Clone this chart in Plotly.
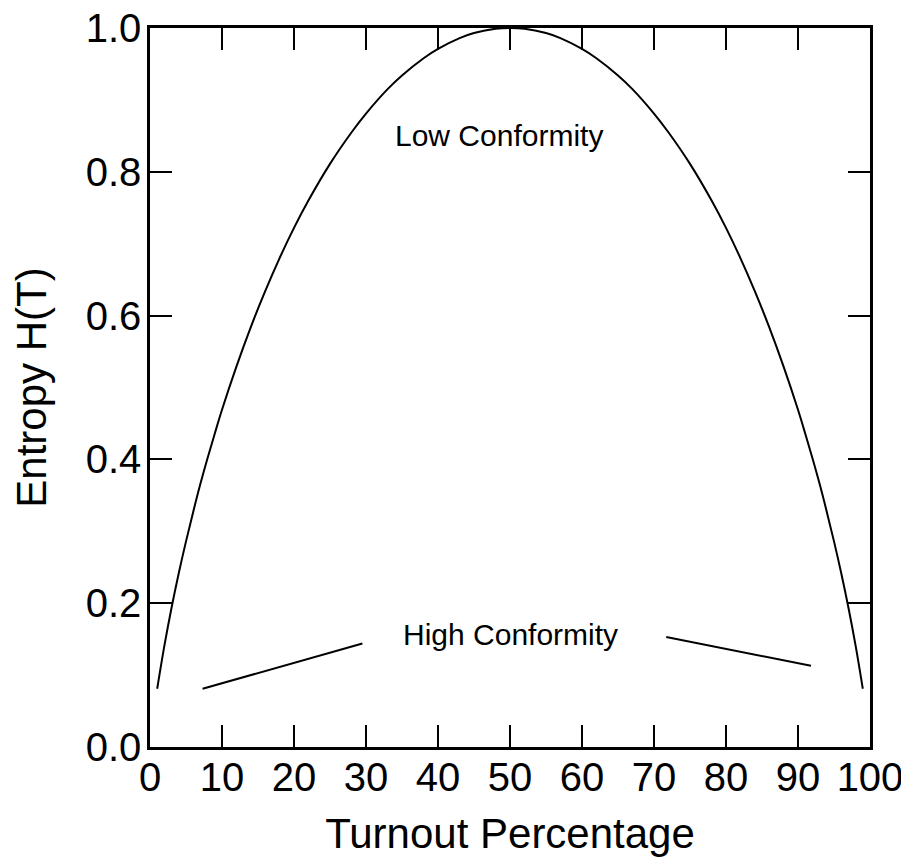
import plotly.graph_objects as go

# Entropy curve
turnout = [1, 2, 3, 4, 5, 6, 7, 8, 9, 10, 12, 14, 16, 18, 20, 22, 25, 28, 30, 33, 35, 38, 40, 43, 45, 48, 50,
           52, 55, 57, 60, 62, 65, 67, 70, 72, 75, 78, 80, 82, 84, 86, 88, 90, 91, 92, 93, 94, 95, 96, 97, 98, 99]
entropy = [0.081, 0.141, 0.194, 0.242, 0.286, 0.327, 0.366, 0.402, 0.436, 0.469, 0.529, 0.584, 0.634, 0.680,
           0.722, 0.760, 0.811, 0.855, 0.881, 0.915, 0.934, 0.958, 0.971, 0.986, 0.993, 0.999, 1.000,
           0.999, 0.993, 0.986, 0.971, 0.958, 0.934, 0.915, 0.881, 0.855, 0.811, 0.760, 0.722, 0.680,
           0.634, 0.584, 0.529, 0.469, 0.436, 0.402, 0.366, 0.327, 0.286, 0.242, 0.194, 0.141, 0.081]

# "High Conformity" pointer segments
left_seg_x = [7.3, 29.5]
left_seg_y = [0.081, 0.144]
right_seg_x = [71.7, 91.8]
right_seg_y = [0.153, 0.113]

labels = ["Low Conformity", "High Conformity"]
label_x = [48.5, 50.1]
label_y = [0.850, 0.156]

x_ticks = [0, 10, 20, 30, 40, 50, 60, 70, 80, 90, 100]
y_ticks = [0.0, 0.2, 0.4, 0.6, 0.8, 1.0]
y_tick_text = ["0.0", "0.2", "0.4", "0.6", "0.8", "1.0"]

FONT = "Liberation Sans, Arial, sans-serif"

fig = go.Figure()
fig.add_trace(go.Scatter(x=turnout, y=entropy, mode="lines",
                         line=dict(color="black", width=2, shape="spline"),
                         showlegend=False, hoverinfo="skip"))
for sx, sy in [(left_seg_x, left_seg_y), (right_seg_x, right_seg_y)]:
    fig.add_trace(go.Scatter(x=sx, y=sy, mode="lines",
                             line=dict(color="black", width=2),
                             showlegend=False, hoverinfo="skip"))

for t, ax, ay in zip(labels, label_x, label_y):
    fig.add_annotation(x=ax, y=ay, text=t, showarrow=False,
                       xanchor="center", yanchor="middle",
                       font=dict(family=FONT, size=30, color="black"))

axis_common = dict(showline=True, linecolor="black", linewidth=2.5, mirror="allticks",
                   ticks="inside", ticklen=22, tickwidth=2, tickcolor="black",
                   showgrid=False, zeroline=False, ticklabeloverflow="allow",
                   tickfont=dict(family=FONT, size=40, color="black"))

fig.update_xaxes(range=[0, 100], tickvals=x_ticks, ticklabelstandoff=-7,
                 title=dict(text="Turnout Percentage", font=dict(family=FONT, size=42, color="black"),
                            standoff=22),
                 **axis_common)
fig.update_yaxes(range=[0, 1], tickvals=y_ticks, ticktext=y_tick_text, ticklabelstandoff=-2,
                 title=dict(text="Entropy H(T)", font=dict(family=FONT, size=42, color="black"),
                            standoff=30),
                 **axis_common)

# page body adds an 8px margin; size/margins compensate so the plot area lands where the reference's does
fig.update_layout(width=901, height=849,
                  margin=dict(l=142, r=39, t=20, b=110, autoexpand=False),
                  paper_bgcolor="white", plot_bgcolor="white",
                  font=dict(family=FONT, color="black"))

fig.write_html("out.html")
